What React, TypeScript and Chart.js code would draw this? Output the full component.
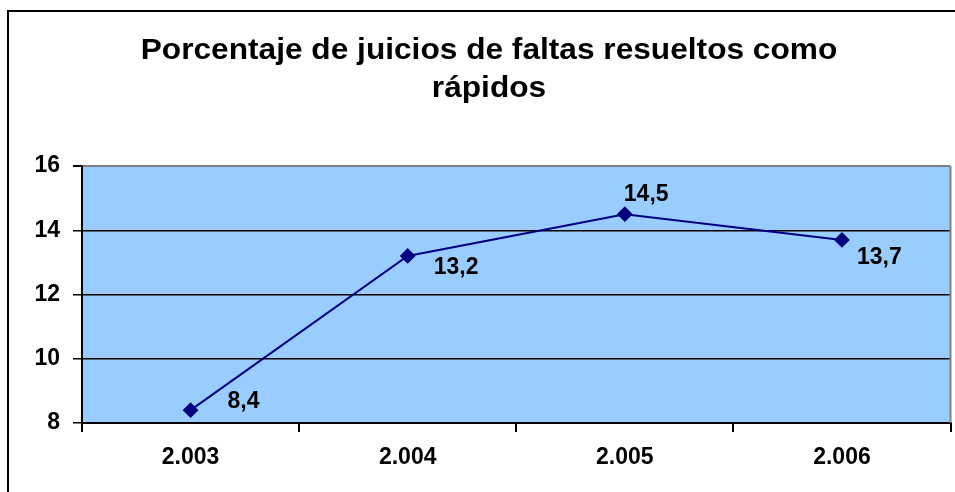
import React, { useEffect, useRef } from "react";
import { Chart, registerables } from "chart.js";

Chart.register(...registerables);

const titleLines = ["Porcentaje de juicios de faltas resueltos como", "rápidos"];
const categories = ["2.003", "2.004", "2.005", "2.006"];
const values = [8.4, 13.2, 14.5, 13.7];
const valueLabels = ["8,4", "13,2", "14,5", "13,7"];
const yTicks = [8, 10, 12, 14, 16];

// label offsets (style): [dx, dy] from each point
const labelOffsets = [
  [37, -8],
  [26, 12],
  [-1, -20],
  [15, 18],
];

const FONT = "'Liberation Sans', Arial, sans-serif";

export default function App() {
  const ref = useRef<HTMLCanvasElement | null>(null);

  useEffect(() => {
    if (!ref.current) return;

    const decor = {
      id: "decor",
      beforeDraw(chart: any) {
        const { ctx, chartArea } = chart;
        ctx.save();
        ctx.fillStyle = "#ffffff";
        ctx.fillRect(0, 0, chart.width, chart.height);
        ctx.strokeStyle = "#000000";
        ctx.lineWidth = 2;
        ctx.strokeRect(8, 11, 1200, 1200);
        ctx.fillStyle = "#99CCFF";
        ctx.fillRect(chartArea.left, chartArea.top, chartArea.right - chartArea.left, chartArea.bottom - chartArea.top);
        ctx.fillStyle = "#000000";
        ctx.font = `bold 30px ${FONT}`;
        ctx.textAlign = "center";
        ctx.textBaseline = "alphabetic";
        ctx.translate(489, 0);
        ctx.scale(1.055, 1);
        ctx.fillText(titleLines[0], 0, 59);
        ctx.fillText(titleLines[1], 0, 97);
        ctx.restore();
      },
      beforeDatasetsDraw(chart: any) {
        const { ctx, chartArea } = chart;
        ctx.save();
        ctx.strokeStyle = "#808080";
        ctx.lineWidth = 2;
        ctx.beginPath();
        ctx.moveTo(chartArea.right, chartArea.top);
        ctx.lineTo(chartArea.right, chartArea.bottom);
        ctx.stroke();
        ctx.restore();
      },
      afterDatasetsDraw(chart: any) {
        const { ctx } = chart;
        const meta = chart.getDatasetMeta(0);
        ctx.save();
        ctx.fillStyle = "#000000";
        ctx.font = `bold 23px ${FONT}`;
        ctx.textAlign = "left";
        ctx.textBaseline = "middle";
        meta.data.forEach((pt: any, i: number) => {
          const [dx, dy] = labelOffsets[i];
          ctx.fillText(valueLabels[i], pt.x + dx, pt.y + dy);
        });
        ctx.restore();
      },
    };

    const chart = new Chart(ref.current, {
      type: "line",
      data: {
        labels: categories,
        datasets: [
          {
            data: values,
            borderColor: "#000080",
            backgroundColor: "#000080",
            borderWidth: 2,
            pointStyle: "rectRot",
            pointRadius: 6.5,
            pointBackgroundColor: "#000080",
            pointBorderColor: "#000080",
            tension: 0,
            fill: false,
          },
        ],
      },
      options: {
        animation: false,
        responsive: false,
        devicePixelRatio: 1,
        layout: { padding: { top: 166, right: 0, left: 0, bottom: 0 } },
        plugins: {
          legend: { display: false },
          title: { display: false },
          tooltip: { enabled: false },
        },
        scales: {
          x: {
            type: "category",
            offset: true,
            grid: {
              display: true,
              offset: true,
              drawOnChartArea: false,
              drawTicks: true,
              tickLength: 9,
              color: "#000000",
              tickColor: "#000000",
              lineWidth: 2,
            },
            border: { display: true, color: "#000000", width: 2 },
            ticks: {
              color: "#000000",
              font: { family: FONT, size: 23, weight: "bold" },
              padding: 12,
              maxRotation: 0,
            },
            afterFit(scale: any) {
              scale.height = 69;
            },
          },
          y: {
            min: 8,
            max: 16,
            afterBuildTicks(scale: any) {
              scale.ticks = yTicks.map((v) => ({ value: v }));
            },
            grid: {
              display: true,
              drawTicks: true,
              tickLength: 9,
              color: (c: any) => (c.tick && c.tick.value === 16 ? "#808080" : "#000000"),
              tickColor: "#000000",
              lineWidth: (c: any) => (c.tick && c.tick.value === 16 ? 2 : 1.5),
            },
            border: { display: true, color: "#000000", width: 2 },
            ticks: {
              color: "#000000",
              font: { family: FONT, size: 23, weight: "bold" },
              padding: 13,
            },
            afterFit(scale: any) {
              scale.width = 82;
            },
          },
        },
      },
      plugins: [decor],
    } as any);

    return () => chart.destroy();
  }, []);

  return (
    <div style={{ position: "fixed", left: 0, top: 0, width: 955, height: 492, overflow: "hidden" }}>
      <canvas ref={ref} width={959} height={492} style={{ display: "block", width: 959, height: 492 }} />
    </div>
  );
}
